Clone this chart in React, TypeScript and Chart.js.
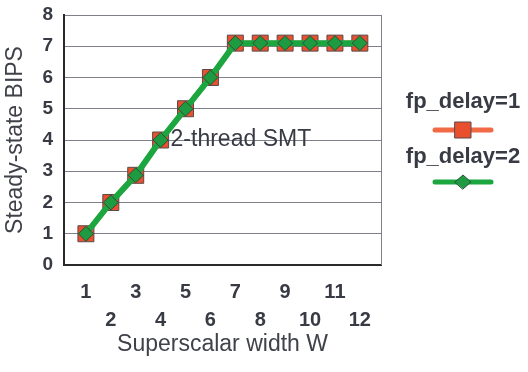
import React, { useEffect, useRef } from 'react';
import { Chart, registerables } from 'chart.js';

Chart.register(...registerables);

const widths = [1, 2, 3, 4, 5, 6, 7, 8, 9, 10, 11, 12];
const fpDelay1 = [1, 2, 2.87, 4, 5, 6, 7.1, 7.1, 7.1, 7.1, 7.1, 7.1];
const fpDelay2 = [1, 2, 2.87, 4, 5, 6, 7.1, 7.1, 7.1, 7.1, 7.1, 7.1];
const seriesNames = ['fp_delay=1', 'fp_delay=2'];
const yTickValues = [0, 1, 2, 3, 4, 5, 6, 7, 8];
const annotationText = '2-thread SMT';
const annotationAt = { x: 4.4, y: 4 };
const xTitle = 'Superscalar width W';
const yTitle = 'Steady-state BIPS';

const FONT = '"Liberation Sans", Arial, Helvetica, sans-serif';
const TEXT = '#383a44';

const redFill = '#e8502e';
const redLine = '#f26a45';
const greenFill = '#1e9a40';
const greenLine = '#1ba640';

const overlayPlugin = {
  id: 'overlay',
  afterDraw(chart: any) {
    const { ctx, chartArea, scales } = chart;
    const xs = scales.x;
    const ys = scales.y;
    ctx.save();
    // right border of plot
    ctx.strokeStyle = '#80808a';
    ctx.lineWidth = 1;
    ctx.beginPath();
    ctx.moveTo(Math.round(chartArea.right) + 0.5, chartArea.top);
    ctx.lineTo(Math.round(chartArea.right) + 0.5, chartArea.bottom);
    ctx.stroke();

    // annotation
    ctx.fillStyle = TEXT;
    ctx.font = `23px ${FONT}`;
    ctx.textAlign = 'left';
    ctx.textBaseline = 'middle';
    ctx.fillText(annotationText, xs.getPixelForValue(annotationAt.x), ys.getPixelForValue(annotationAt.y));

    // legend
    const cx = chartArea.right + 82;
    const items = [
      { name: seriesNames[0], base: 108, lineY: 130, color: redLine, lw: 5, fill: redFill, stroke: '#5a4a4a', shape: 'rect' },
      { name: seriesNames[1], base: 163, lineY: 182, color: greenLine, lw: 5, fill: greenFill, stroke: '#2d4d3a', shape: 'diamond' },
    ];
    for (const it of items) {
      ctx.font = `bold 22px ${FONT}`;
      ctx.textAlign = 'center';
      ctx.textBaseline = 'alphabetic';
      ctx.fillStyle = TEXT;
      ctx.fillText(it.name, cx, it.base);
      ctx.strokeStyle = it.color;
      ctx.lineWidth = it.lw;
      ctx.lineCap = 'round';
      ctx.beginPath();
      ctx.moveTo(cx - 28, it.lineY);
      ctx.lineTo(cx + 28, it.lineY);
      ctx.stroke();
      ctx.fillStyle = it.fill;
      ctx.strokeStyle = it.stroke;
      ctx.lineWidth = 1;
      ctx.beginPath();
      if (it.shape === 'rect') {
        ctx.rect(cx - 8, it.lineY - 8, 16, 16);
      } else {
        ctx.moveTo(cx - 8, it.lineY);
        ctx.lineTo(cx, it.lineY - 7);
        ctx.lineTo(cx + 8, it.lineY);
        ctx.lineTo(cx, it.lineY + 7);
        ctx.closePath();
      }
      ctx.fill();
      ctx.stroke();
    }
    ctx.restore();
  },
};

export default function App() {
  const ref = useRef<HTMLCanvasElement | null>(null);
  useEffect(() => {
    if (!ref.current) return;
    Chart.defaults.font.family = FONT;
    const chart = new Chart(ref.current, {
      type: 'line',
      data: {
        datasets: [
          {
            label: seriesNames[0],
            data: widths.map((w, i) => ({ x: w, y: fpDelay1[i] })),
            borderColor: redLine,
            borderWidth: 5,
            pointStyle: 'rect',
            pointRadius: 11.3,
            pointBackgroundColor: redFill,
            pointBorderColor: '#5a4a4a',
            pointBorderWidth: 1,
            order: 2,
          },
          {
            label: seriesNames[1],
            data: widths.map((w, i) => ({ x: w, y: fpDelay2[i] })),
            borderColor: greenLine,
            borderWidth: 6,
            pointStyle: 'rectRot',
            pointRadius: 7.5,
            pointBackgroundColor: greenFill,
            pointBorderColor: '#2d4d3a',
            pointBorderWidth: 1,
            order: 1,
          },
        ],
      },
      options: {
        responsive: false,
        animation: false,
        events: [],
        layout: { autoPadding: false, padding: { left: 0, right: 147, top: 15, bottom: 0 } },
        plugins: { legend: { display: false }, tooltip: { enabled: false } },
        scales: {
          x: {
            type: 'linear',
            min: 0.12,
            max: 12.85,
            afterBuildTicks: (scale: any) => {
              scale.ticks = widths.map((v) => ({ value: v }));
            },
            afterFit: (scale: any) => {
              scale.height = 107;
              scale.paddingLeft = 0;
              scale.paddingRight = 0;
            },
            grid: { display: false, drawTicks: false },
            border: { display: true, color: '#2a2a2a', width: 2 },
            ticks: {
              autoSkip: false,
              maxRotation: 0,
              padding: 13,
              color: TEXT,
              font: { size: 20, weight: 'bold', lineHeight: 1.4 },
              callback: (v: any) => (Number(v) % 2 === 1 ? [String(v), ''] : ['', String(v)]),
            },
            title: {
              display: true,
              text: xTitle,
              color: '#40424a',
              font: { size: 23 },
              padding: { top: 0, bottom: 14 },
            },
          },
          y: {
            min: 0,
            max: 8,
            afterBuildTicks: (scale: any) => {
              scale.ticks = yTickValues.map((v) => ({ value: v }));
            },
            afterFit: (scale: any) => {
              scale.width = 64;
              scale.paddingTop = 0;
              scale.paddingBottom = 0;
            },
            grid: { color: '#80808a', lineWidth: 1, drawTicks: false },
            border: { display: true, color: '#2a2a2a', width: 2 },
            ticks: {
              padding: 11,
              color: TEXT,
              font: { size: 19, weight: 'bold' },
            },
            title: {
              display: true,
              text: yTitle,
              color: '#40424a',
              font: { size: 23 },
              padding: { top: 2, bottom: 0 },
            },
          },
        },
      },
      plugins: [overlayPlugin],
    } as any);
    return () => chart.destroy();
  }, []);
  return (
    <div style={{ position: 'absolute', left: 0, top: 0, width: 528, height: 372, background: '#fff' }}>
      <canvas ref={ref} width={528} height={372} style={{ display: 'block' }} />
    </div>
  );
}
